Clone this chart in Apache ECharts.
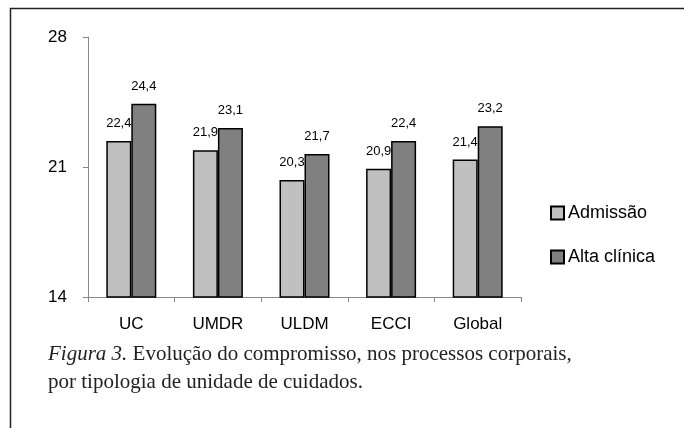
<!DOCTYPE html>
<html><head><meta charset="utf-8">
<script src="https://cdn.jsdelivr.net/npm/echarts@6/dist/echarts.min.js"></script>
<style>html,body{margin:0;padding:0;background:#fff}#c{width:684px;height:428px}</style>
</head><body><div id="c"></div>
<script>
const categories = ['UC', 'UMDR', 'ULDM', 'ECCI', 'Global'];
const admissao = [22.4, 21.9, 20.3, 20.9, 21.4];
const altaClinica = [24.4, 23.1, 21.7, 22.4, 23.2];
const yTicks = [14, 21, 28];
const seriesNames = ['Admissão', 'Alta clínica'];

const chart = echarts.init(document.getElementById('c'));
const fnt = 'Liberation Sans';
const lbl = {
  show: true, position: 'top', distance: 11,
  formatter: p => String(p.value).replace('.', ','),
  fontFamily: fnt, fontSize: 13, color: '#000'
};
chart.setOption({
  animation: false,
  grid: { left: 88, right: 163, top: 37, bottom: 131, containLabel: false },
  legend: {
    orient: 'vertical', left: 545, top: 199, itemGap: 26,
    itemWidth: 13, itemHeight: 13, icon: 'rect',
    textStyle: { fontFamily: fnt, fontSize: 18, color: '#000', padding: [0, 0, 0, -1] },
    data: seriesNames
  },
  xAxis: {
    type: 'category', data: categories,
    axisLine: { lineStyle: { color: '#888', width: 1 } },
    axisTick: { show: true, length: 5, lineStyle: { color: '#888' } },
    axisLabel: { fontFamily: fnt, fontSize: 17, color: '#000', margin: 19 }
  },
  yAxis: {
    type: 'value', min: 14, max: 28, interval: 7,
    axisLine: { show: true, lineStyle: { color: '#888', width: 1 } },
    axisTick: { show: true, length: 5, lineStyle: { color: '#888' } },
    splitLine: { show: false },
    axisLabel: { fontFamily: fnt, fontSize: 17, color: '#000', margin: 21,
      formatter: v => yTicks.includes(v) ? String(v) : '' }
  },
  series: [
    { name: seriesNames[0], type: 'bar', data: admissao, barWidth: 25, barGap: '0%',
      itemStyle: { color: '#c0c0c0', borderColor: '#000', borderWidth: 1.5 }, label: lbl },
    { name: seriesNames[1], type: 'bar', data: altaClinica, barWidth: 25,
      itemStyle: { color: '#808080', borderColor: '#000', borderWidth: 1.5 }, label: lbl }
  ],
  graphic: [
    { type: 'line', shape: { x1: 10, y1: 8.5, x2: 684, y2: 8.5 }, style: { stroke: '#222', lineWidth: 1.5 } },
    { type: 'line', shape: { x1: 10.5, y1: 8, x2: 10.5, y2: 428 }, style: { stroke: '#222', lineWidth: 1.5 } },
    { type: 'text', left: 48, top: 340, style: {
        text: '{i|Figura 3.} Evolução do compromisso, nos processos corporais,\npor tipologia de unidade de cuidados.',
        fontFamily: 'Liberation Serif', fontSize: 21, lineHeight: 28, fill: '#222',
        rich: { i: { fontStyle: 'italic', fontFamily: 'Liberation Serif', fontSize: 21, fill: '#222' } }
    } }
  ]
});
</script></body></html>
